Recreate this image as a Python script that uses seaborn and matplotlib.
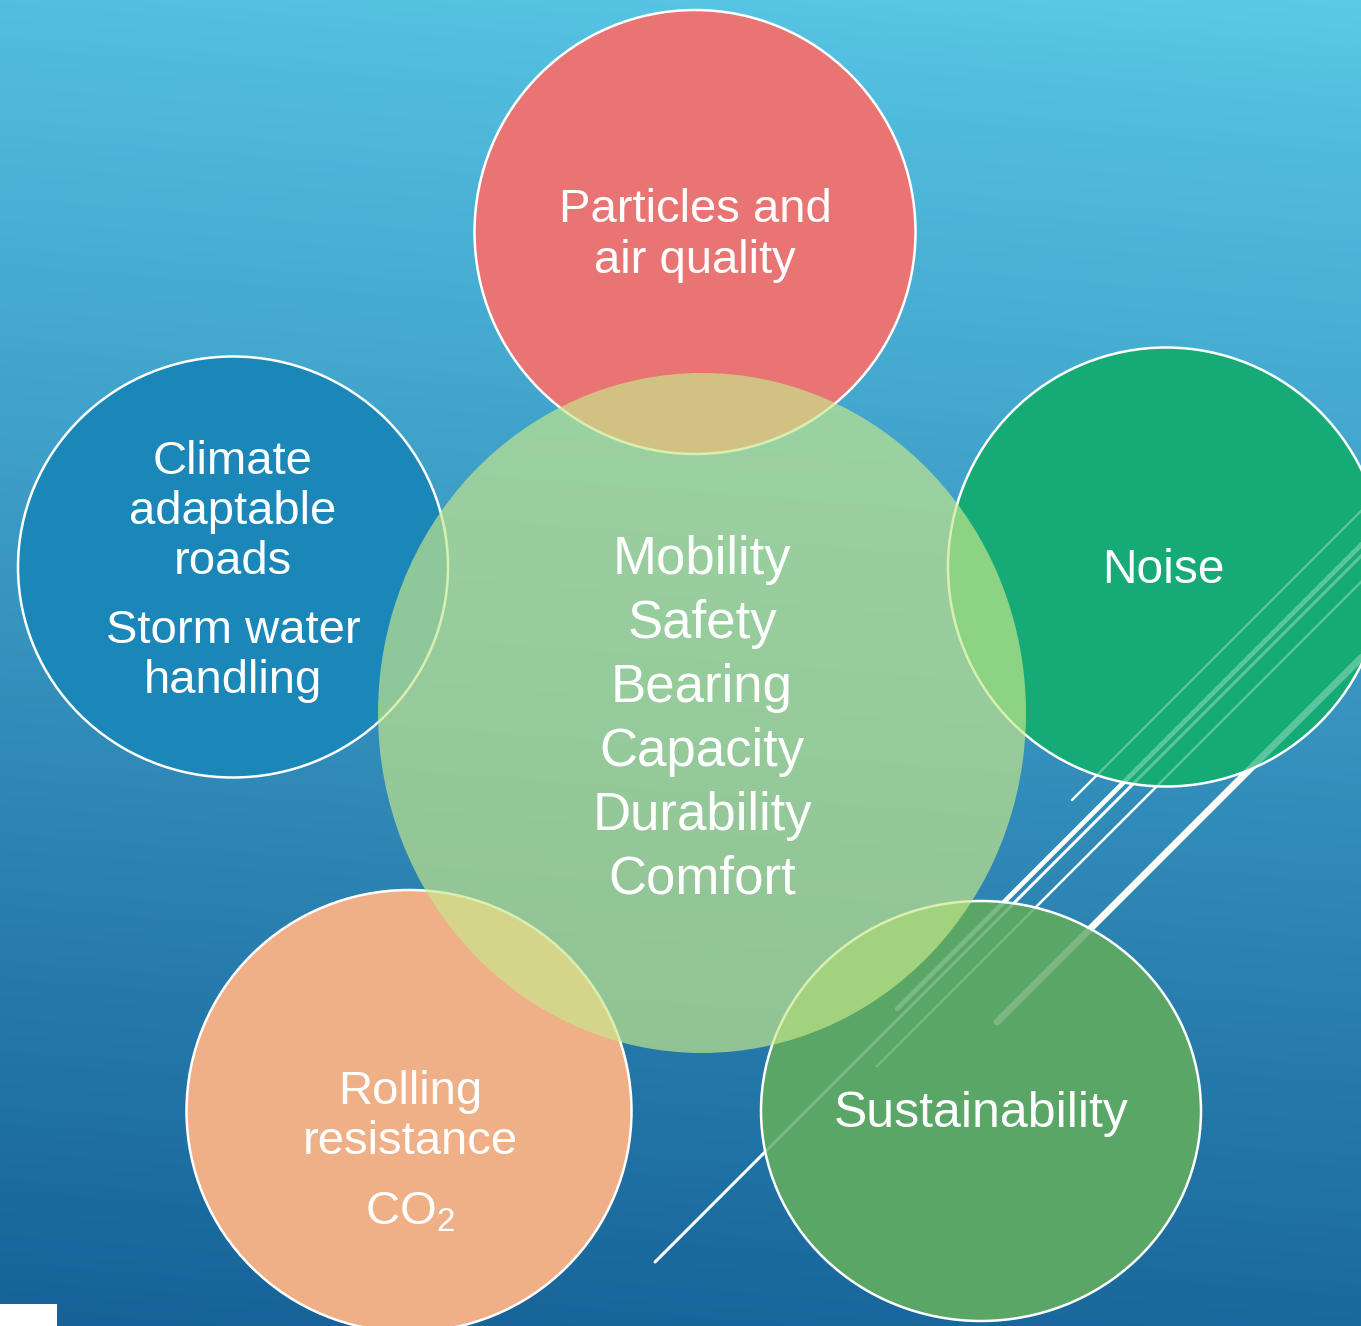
import numpy as np
import matplotlib
matplotlib.use("Agg")
import matplotlib.pyplot as plt
from matplotlib.patches import Ellipse, Rectangle
from matplotlib.colors import LinearSegmentedColormap
from matplotlib.lines import Line2D
import seaborn as sns

W, H = 1361, 1326

# Outer bubbles: centre, size (canvas pixels) and fill colour
bubble_x = [695, 233, 1166, 409, 981]
bubble_y = [232, 567, 567, 1111, 1111]
bubble_w = [441, 430, 436, 445, 440]
bubble_h = [444, 421, 439, 442, 420]
bubble_colors = ["#e87574", "#1b87b8", "#16ab76", "#efb088", "#5aa666"]

# Bubble captions, one list of lines per bubble
bubble_text_x = [695, 233, 1163, 410, 981]
bubble_font = [34, 34, 34.5, 34, 36]
bubble_lines = [
    ["Particles and", "air quality"],
    ["Climate", "adaptable", "roads", "Storm water", "handling"],
    ["Noise"],
    ["Rolling", "resistance", r"CO$_{\mathrm{2}}$"],
    ["Sustainability"],
]
bubble_baselines = [
    [222, 273],
    [474, 524, 574, 643, 693],
    [583],
    [1104, 1154, 1224],
    [1127],
]

# Central bubble
core_x, core_y, core_w, core_h = 702, 713, 648, 680
core_color = "#c7e88b"
core_alpha = 0.67
core_lines = ["Mobility", "Safety", "Bearing", "Capacity", "Durability", "Comfort"]
core_baselines = [574, 638, 702, 766, 830, 894]

# Diagonal accent stripes along x + y = c, running from x0 to the right edge
stripe_c = [1872, 1906, 1917, 1943, 2019]
stripe_x0 = [1072, 897, 655, 877, 997]
stripe_lw = [1.7, 3.4, 2.2, 1.8, 5.0]

# Bubbles that show the stripes faintly through them (index, alpha)
see_through = [(2, 0.30), (4, 0.20)]

sns.set_theme(style="white")
plt.rcParams["font.family"] = ["Liberation Sans", "DejaVu Sans"]
plt.rcParams["mathtext.fontset"] = "custom"
plt.rcParams["mathtext.rm"] = "Liberation Sans"

fig = plt.figure(figsize=(W / 100, H / 100), dpi=100)
ax = fig.add_axes([0, 0, 1, 1])
ax.set_xlim(0, W)
ax.set_ylim(H, 0)
ax.axis("off")

# Background gradient: light cyan at the top right to deep blue at the bottom
bg_cmap = LinearSegmentedColormap.from_list(
    "bg",
    [(0.0, (91 / 255, 202 / 255, 231 / 255)),
     (0.08 / 1.08, (83 / 255, 190 / 255, 223 / 255)),
     (0.31 / 1.08, (69 / 255, 169 / 255, 208 / 255)),
     (1.0, (22 / 255, 98 / 255, 152 / 255))],
)
gx, gy = np.meshgrid(np.linspace(0, 1, 300), np.linspace(0, 1, 300))
t = gy - 0.08 * gx
ax.imshow(t, cmap=bg_cmap, vmin=-0.08, vmax=1.0, extent=(0, W, H, 0),
          aspect="auto", interpolation="bilinear", zorder=0)

ax.add_patch(Rectangle((0, 1304), 57, 22, facecolor="white", edgecolor="none", zorder=1))


def stripe_xy(c, x0):
    xs = np.array([x0, W + 40])
    return xs, c - xs


for c, x0, lw in zip(stripe_c, stripe_x0, stripe_lw):
    xs, ys = stripe_xy(c, x0)
    ax.plot(xs, ys, color="white", lw=lw, solid_capstyle="round", zorder=1)

for cx, cy, w, h, col in zip(bubble_x, bubble_y, bubble_w, bubble_h, bubble_colors):
    ax.add_patch(Ellipse((cx, cy), w, h, facecolor=col, edgecolor="white", lw=1.8, zorder=2))

for idx, alpha in see_through:
    clip = Ellipse((bubble_x[idx], bubble_y[idx]), bubble_w[idx], bubble_h[idx],
                   transform=ax.transData)
    for c, x0, lw in zip(stripe_c, stripe_x0, stripe_lw):
        xs, ys = stripe_xy(c, x0)
        ln = Line2D(xs, ys, color="white", lw=lw, alpha=alpha,
                    solid_capstyle="round", zorder=3)
        ax.add_line(ln)
        ln.set_clip_path(clip)

ax.add_patch(Ellipse((core_x, core_y), core_w, core_h, facecolor=core_color,
                     edgecolor="none", alpha=core_alpha, zorder=4))

for tx, fs, lines, bases in zip(bubble_text_x, bubble_font, bubble_lines, bubble_baselines):
    for s, b in zip(lines, bases):
        ax.text(tx, b, s, color="white", fontsize=fs, ha="center", va="baseline", zorder=5)

for s, b in zip(core_lines, core_baselines):
    ax.text(core_x, b, s, color="white", fontsize=38, ha="center", va="baseline", zorder=5)

fig.savefig("out.png", dpi=100)
